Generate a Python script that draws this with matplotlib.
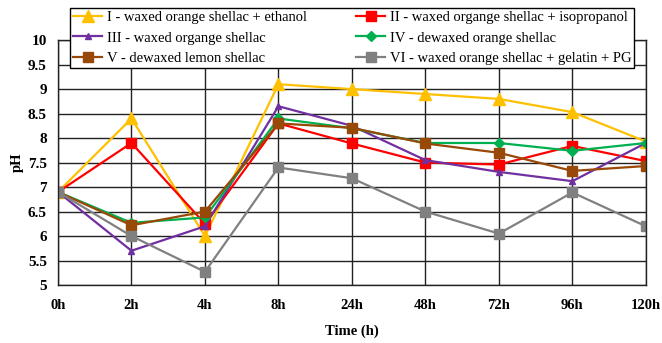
import matplotlib
matplotlib.use("Agg")
import matplotlib.pyplot as plt

times = ["0h", "2h", "4h", "8h", "24h", "48h", "72h", "96h", "120h"]

ph_i = [6.9, 8.4, 6.0, 9.1, 9.0, 8.9, 8.8, 8.53, 7.93]
ph_ii = [6.9, 7.9, 6.25, 8.3, 7.89, 7.5, 7.46, 7.84, 7.53]
ph_iii = [6.9, 5.7, 6.2, 8.65, 8.25, 7.55, 7.31, 7.12, 7.9]
ph_iv = [6.9, 6.27, 6.38, 8.4, 8.2, 7.9, 7.9, 7.74, 7.9]
ph_v = [6.9, 6.22, 6.5, 8.3, 8.21, 7.89, 7.7, 7.33, 7.43]
ph_vi = [6.9, 6.0, 5.27, 7.4, 7.18, 6.5, 6.05, 6.89, 6.2]

labels = [
    "I - waxed orange shellac + ethanol",
    "II - waxed organge shellac + isopropanol",
    "III - waxed organge shellac",
    "IV - dewaxed orange shellac",
    "V - dewaxed lemon shellac",
    "VI - waxed orange shellac + gelatin + PG",
]

plt.rcParams["font.family"] = "Liberation Serif"

fig = plt.figure(figsize=(6.62, 3.43), dpi=100)
ax = fig.add_axes([0.0876, 0.169, 0.888, 0.714])

x = list(range(len(times)))
l1, = ax.plot(x, ph_i, color="#FFC000", marker="^", markersize=8, lw=1.6, label=labels[0])
l2, = ax.plot(x, ph_ii, color="#FF0000", marker="s", markersize=7, lw=1.6, label=labels[1])
l3, = ax.plot(x, ph_iii, color="#7030A0", marker="^", markersize=5, lw=1.6, label=labels[2])
l4, = ax.plot(x, ph_iv, color="#00B050", marker="D", markersize=5, lw=1.6, label=labels[3])
l5, = ax.plot(x, ph_v, color="#984807", marker="s", markersize=7, lw=1.6, label=labels[4])
l6, = ax.plot(x, ph_vi, color="#808080", marker="s", markersize=7, lw=1.6, label=labels[5])

ax.set_xlim(0, len(times) - 1)
ax.set_ylim(5, 10)
ax.set_xticks(x)
ax.set_xticklabels(times, fontsize=10.5, fontweight="bold")
yt = [5 + 0.5 * i for i in range(11)]
ax.set_yticks(yt)
ax.set_yticklabels([("%g" % v) for v in yt], fontsize=11, fontweight="bold")
ax.grid(True, color="#222222", lw=1.0)
ax.set_axisbelow(True)
for s in ax.spines.values():
    s.set_color("#222222")
    s.set_linewidth(1.0)
ax.tick_params(axis="both", length=0)
ax.tick_params(axis="x", pad=10)
ax.tick_params(axis="y", pad=8)

ax.set_xlabel("Time (h)", fontsize=10.5, fontweight="bold", labelpad=9)
ax.set_ylabel("pH", fontsize=10.5, fontweight="bold", labelpad=3)

handles = [l1, l3, l5, l2, l4, l6]
leg = fig.legend(handles, [h.get_label() for h in handles],
                 loc="upper left", bbox_to_anchor=(0.106, 0.977), ncol=2,
                 fontsize=10.5, frameon=True, fancybox=False, edgecolor="black",
                 borderpad=0.2, labelspacing=0.5, handlelength=2.0,
                 handletextpad=0.3, columnspacing=3.4, borderaxespad=0)
leg.get_frame().set_linewidth(1.0)
leg.get_frame().set_alpha(1)

fig.savefig("out.png", dpi=100)
